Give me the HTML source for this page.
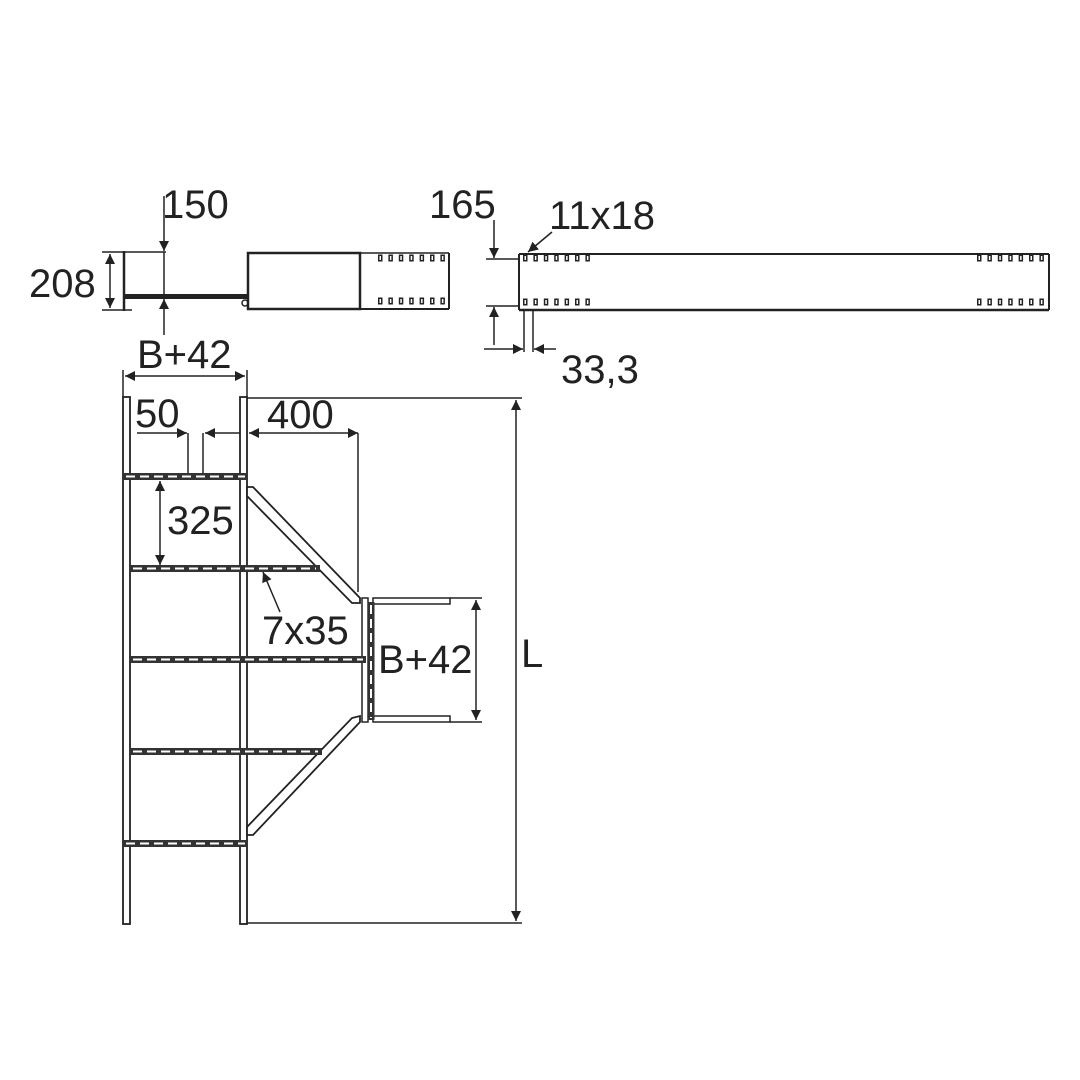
<!DOCTYPE html>
<html><head><meta charset="utf-8"><style>
html,body{margin:0;padding:0;background:#fff;}
svg{display:block}
text{font-family:"Liberation Sans",sans-serif;font-size:40px;fill:#222}
</style></head><body>
<svg width="1080" height="1080" viewBox="0 0 1080 1080" xmlns="http://www.w3.org/2000/svg">
<defs>
<marker id="a" viewBox="0 0 10 10" refX="10" refY="5" markerWidth="20" markerHeight="10" markerUnits="userSpaceOnUse" orient="auto-start-reverse"><path d="M0,0L10,5L0,10z" fill="#222"/></marker>
</defs>
<g stroke="#222" fill="none" stroke-width="1.5">
<!-- top-left view -->
<line x1="124" y1="251" x2="124" y2="311" stroke-width="2.5"/>
<line x1="102" y1="252" x2="166" y2="252"/>
<line x1="102" y1="310" x2="132" y2="310"/>
<line x1="110" y1="254" x2="110" y2="308" marker-start="url(#a)" marker-end="url(#a)"/>
<line x1="164" y1="196" x2="164" y2="251" marker-end="url(#a)"/>
<line x1="164" y1="335" x2="164" y2="299" marker-end="url(#a)"/>
<line x1="164" y1="252" x2="164" y2="298"/>
<rect x="124" y="294" width="124" height="5" fill="#222" stroke="none"/>
<rect x="248" y="253" width="112" height="56" stroke-width="2.5"/>
<circle cx="245" cy="303" r="3"/>
<line x1="360" y1="253" x2="449" y2="253" stroke-width="1.5"/>
<line x1="360" y1="309" x2="449" y2="309" stroke-width="2"/>
<line x1="449" y1="253" x2="449" y2="309" stroke-width="2"/>
<!-- top-right view -->
<line x1="519" y1="254" x2="1049" y2="254" stroke-width="2"/>
<line x1="519" y1="310" x2="1049" y2="310" stroke-width="2.5"/>
<line x1="519" y1="254" x2="519" y2="310" stroke-width="2"/>
<line x1="1049" y1="254" x2="1049" y2="310" stroke-width="2"/>
<line x1="486" y1="259" x2="520" y2="259"/>
<line x1="486" y1="306" x2="520" y2="306"/>
<line x1="494" y1="220" x2="494" y2="258" marker-end="url(#a)"/>
<line x1="494" y1="345" x2="494" y2="307" marker-end="url(#a)"/>
<line x1="552" y1="232" x2="528" y2="252" marker-end="url(#a)"/>
<line x1="524" y1="310" x2="524" y2="352"/>
<line x1="533" y1="310" x2="533" y2="352"/>
<line x1="484" y1="349" x2="523" y2="349" marker-end="url(#a)"/>
<line x1="556" y1="349" x2="534" y2="349" marker-end="url(#a)"/>
<!-- main ladder rails -->
<rect x="123" y="397" width="7" height="527" stroke-width="1.8"/>
<rect x="240" y="397" width="7" height="527" stroke-width="1.8"/>
<line x1="247" y1="398" x2="522" y2="398"/>
<line x1="247" y1="923" x2="522" y2="923"/>
<line x1="516" y1="400" x2="516" y2="921" marker-start="url(#a)" marker-end="url(#a)"/>
<!-- diagonals -->
<polygon points="247,487 247,496 352,603 360,603 360,598 253,487" fill="#fff" stroke-width="1.8"/>
<polygon points="247,835 247,827 352,718 360,716 360,722 253,835" fill="#fff" stroke-width="1.8"/>
<!-- branch -->
<rect x="373" y="598" width="77" height="6" stroke-width="1.5"/>
<rect x="373" y="716" width="77" height="6" stroke-width="1.5"/>
<rect x="362" y="598" width="6" height="124"/>
<line x1="358" y1="433" x2="358" y2="592"/>
<line x1="450" y1="598" x2="482" y2="598"/>
<line x1="450" y1="722" x2="482" y2="722"/>
<line x1="476" y1="600" x2="476" y2="720" marker-start="url(#a)" marker-end="url(#a)"/>
<!-- dims -->
<line x1="123" y1="370" x2="123" y2="397"/>
<line x1="247" y1="370" x2="247" y2="397"/>
<line x1="125" y1="376" x2="245" y2="376" marker-start="url(#a)" marker-end="url(#a)"/>
<line x1="137" y1="433" x2="187" y2="433" marker-end="url(#a)"/>
<line x1="240" y1="433" x2="205" y2="433" marker-end="url(#a)"/>
<line x1="188" y1="433" x2="188" y2="474"/>
<line x1="203" y1="433" x2="203" y2="474"/>
<line x1="249" y1="433" x2="358" y2="433" marker-start="url(#a)" marker-end="url(#a)"/>
<line x1="160" y1="481" x2="160" y2="565" marker-start="url(#a)" marker-end="url(#a)"/>
<line x1="280" y1="612" x2="263" y2="572" marker-end="url(#a)"/>
</g>
<!-- slots (hollow squares) -->
<g fill="none">
<g stroke="#222" stroke-width="7" stroke-dasharray="4.5 5.9">
<line x1="378" y1="258" x2="447" y2="258"/>
<line x1="378" y1="301" x2="447" y2="301"/>
<line x1="523" y1="258" x2="594" y2="258"/>
<line x1="523" y1="302" x2="594" y2="302"/>
<line x1="977" y1="258" x2="1047" y2="258"/>
<line x1="977" y1="302" x2="1047" y2="302"/>
</g>
<g stroke="#fff" stroke-width="4" stroke-dasharray="0 1.5 1.5 7.4" stroke-dashoffset="0">
<line x1="378" y1="258" x2="447" y2="258"/>
<line x1="378" y1="301" x2="447" y2="301"/>
<line x1="523" y1="258" x2="594" y2="258"/>
<line x1="523" y1="302" x2="594" y2="302"/>
<line x1="977" y1="258" x2="1047" y2="258"/>
<line x1="977" y1="302" x2="1047" y2="302"/>
</g>
<!-- rungs -->
<g stroke="#333" stroke-width="7">
<line x1="123" y1="476.5" x2="247" y2="476.5"/>
<line x1="130" y1="568.5" x2="320" y2="568.5"/>
<line x1="130" y1="659.5" x2="366" y2="659.5"/>
<line x1="130" y1="751.5" x2="322" y2="751.5"/>
<line x1="123" y1="843.5" x2="247" y2="843.5"/>
<line x1="371" y1="602" x2="371" y2="720"/>
</g>
<g stroke="#fff" stroke-width="2" stroke-dasharray="9 5">
<line x1="126" y1="476.5" x2="245" y2="476.5"/>
<line x1="133" y1="568.5" x2="316" y2="568.5"/>
<line x1="133" y1="659.5" x2="363" y2="659.5"/>
<line x1="133" y1="751.5" x2="318" y2="751.5"/>
<line x1="126" y1="843.5" x2="245" y2="843.5"/>
<line x1="371" y1="605" x2="371" y2="718"/>
</g>
</g>
<g>
<text x="29" y="297">208</text>
<text x="162" y="218">150</text>
<text x="429" y="218">165</text>
<text x="549" y="229">11x18</text>
<text x="561" y="383">33,3</text>
<text x="137" y="368">B+42</text>
<text x="135" y="427">50</text>
<text x="267" y="428">400</text>
<text x="167" y="534">325</text>
<text x="262" y="644">7x35</text>
<text x="378" y="673">B+42</text>
<text x="521" y="667">L</text>
</g>
</svg>
</body></html>
